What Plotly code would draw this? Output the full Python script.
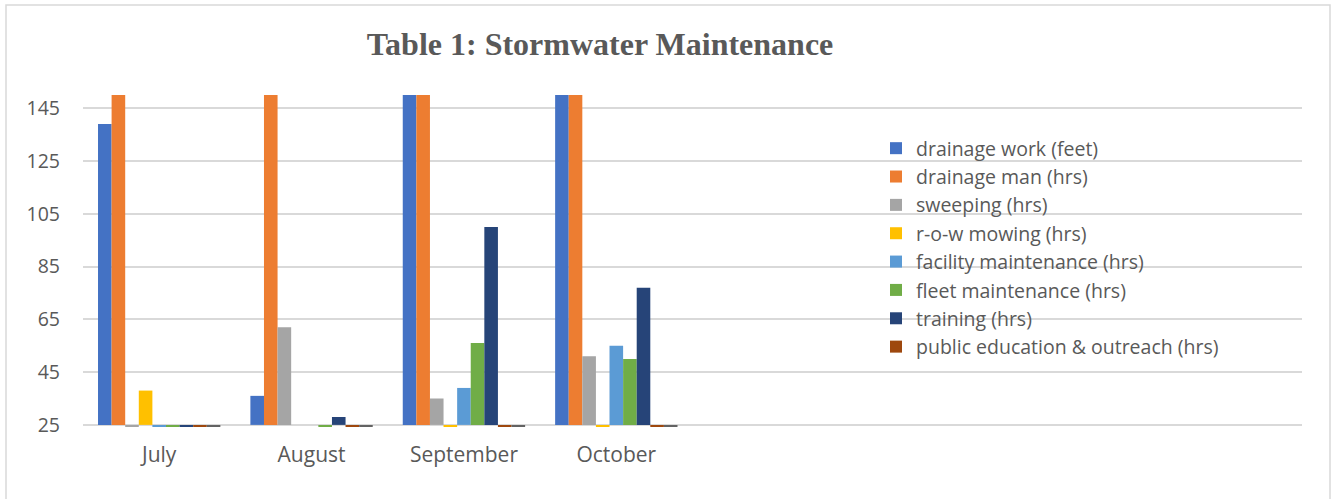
import plotly.graph_objects as go

categories = ["July", "August", "September", "October"]
# four empty category slots to the right (plot area spans eight slots)
empty_slots = ["", " ", "  ", "   "]

series_names = [
    "drainage work (feet)",
    "drainage man (hrs)",
    "sweeping (hrs)",
    "r-o-w mowing (hrs)",
    "facility maintenance (hrs)",
    "fleet maintenance (hrs)",
    "training (hrs)",
    "public education & outreach (hrs)",
    "other (hrs)",
]
drainage_work = [139, 36, 180, 180]
drainage_man = [180, 180, 180, 180]
sweeping = [0, 62, 35, 51]
row_mowing = [38, None, 0, 0]
facility_maint = [0, None, 39, 55]
fleet_maint = [0, 0, 56, 50]
training = [0, 28, 100, 77]
public_edu = [0, 0, 0, 0]
other = [0, 0, 0, 0]

series_values = [drainage_work, drainage_man, sweeping, row_mowing,
                 facility_maint, fleet_maint, training, public_edu, other]
colors = ["#4472C4", "#ED7D31", "#A5A5A5", "#FFC000", "#5B9BD5",
          "#70AD47", "#264478", "#9E480E", "#636363"]
show_in_legend = [True] * 8 + [False]

axis_cross = 25  # horizontal axis crosses (and bars originate) at 25
y_ticks = [25, 45, 65, 85, 105, 125, 145]

FONT = "Open Sans"
GREY = "#595959"

fig = go.Figure()
for name, vals, col, sl in zip(series_names, series_values, colors, show_in_legend):
    fig.add_trace(go.Bar(
        x=categories,
        y=[None if v is None else v - axis_cross for v in vals],
        base=axis_cross,
        name=name,
        marker=dict(color=col, line=dict(width=0)),
        showlegend=sl,
    ))

W, H = 1336, 499
L, R, T, B = 83, 1336 - 1302, 95, 499 - 427
pw, ph = W - L - R, H - T - B

def px_x(p):
    return (p - L) / pw

def px_y(p):
    return (H - B - p) / ph

fig.update_layout(
    width=W, height=H,
    margin=dict(l=L, r=R, t=T, b=B),
    paper_bgcolor="white", plot_bgcolor="white",
    barmode="group", bargap=0.197, bargroupgap=0,
    font=dict(family=FONT, color=GREY, size=19.5),
    title=dict(
        text="<b>Table 1: Stormwater Maintenance</b>",
        font=dict(family="Liberation Serif", size=32, color=GREY),
        x=px_x(600), xref="paper", xanchor="center",
        y=1 - 44 / H, yref="container", yanchor="middle",
    ),
    xaxis=dict(
        type="category",
        categoryorder="array",
        categoryarray=categories + empty_slots,
        range=[-0.5, 7.5],
        tickvals=categories,
        showgrid=False, zeroline=False, showline=False,
        ticks="", tickfont=dict(family=FONT, size=21, color=GREY),
        ticklabelstandoff=13,
    ),
    yaxis=dict(
        range=[24.2, 150],
        tickvals=y_ticks,
        showgrid=True, gridcolor="#D9D9D9", gridwidth=1.5,
        zeroline=False, showline=False, ticks="",
        tickfont=dict(family=FONT, size=19.5, color=GREY),
        ticklabelstandoff=22,
    ),
    legend=dict(
        x=px_x(876), xanchor="left",
        y=px_y(129), yanchor="top",
        font=dict(family=FONT, size=19.5, color=GREY),
        bgcolor="rgba(255,255,255,0)",
        itemwidth=30, tracegroupgap=0,
    ),
    shapes=[dict(
        type="rect", xref="paper", yref="paper",
        x0=px_x(6), x1=px_x(1330), y0=px_y(520), y1=px_y(5),
        line=dict(color="#D9D9D9", width=1.5), fillcolor="rgba(0,0,0,0)",
        layer="below",
    )],
)

fig.write_html("out.html", config={"displayModeBar": False},
               post_script="document.body.style.margin='0';")
